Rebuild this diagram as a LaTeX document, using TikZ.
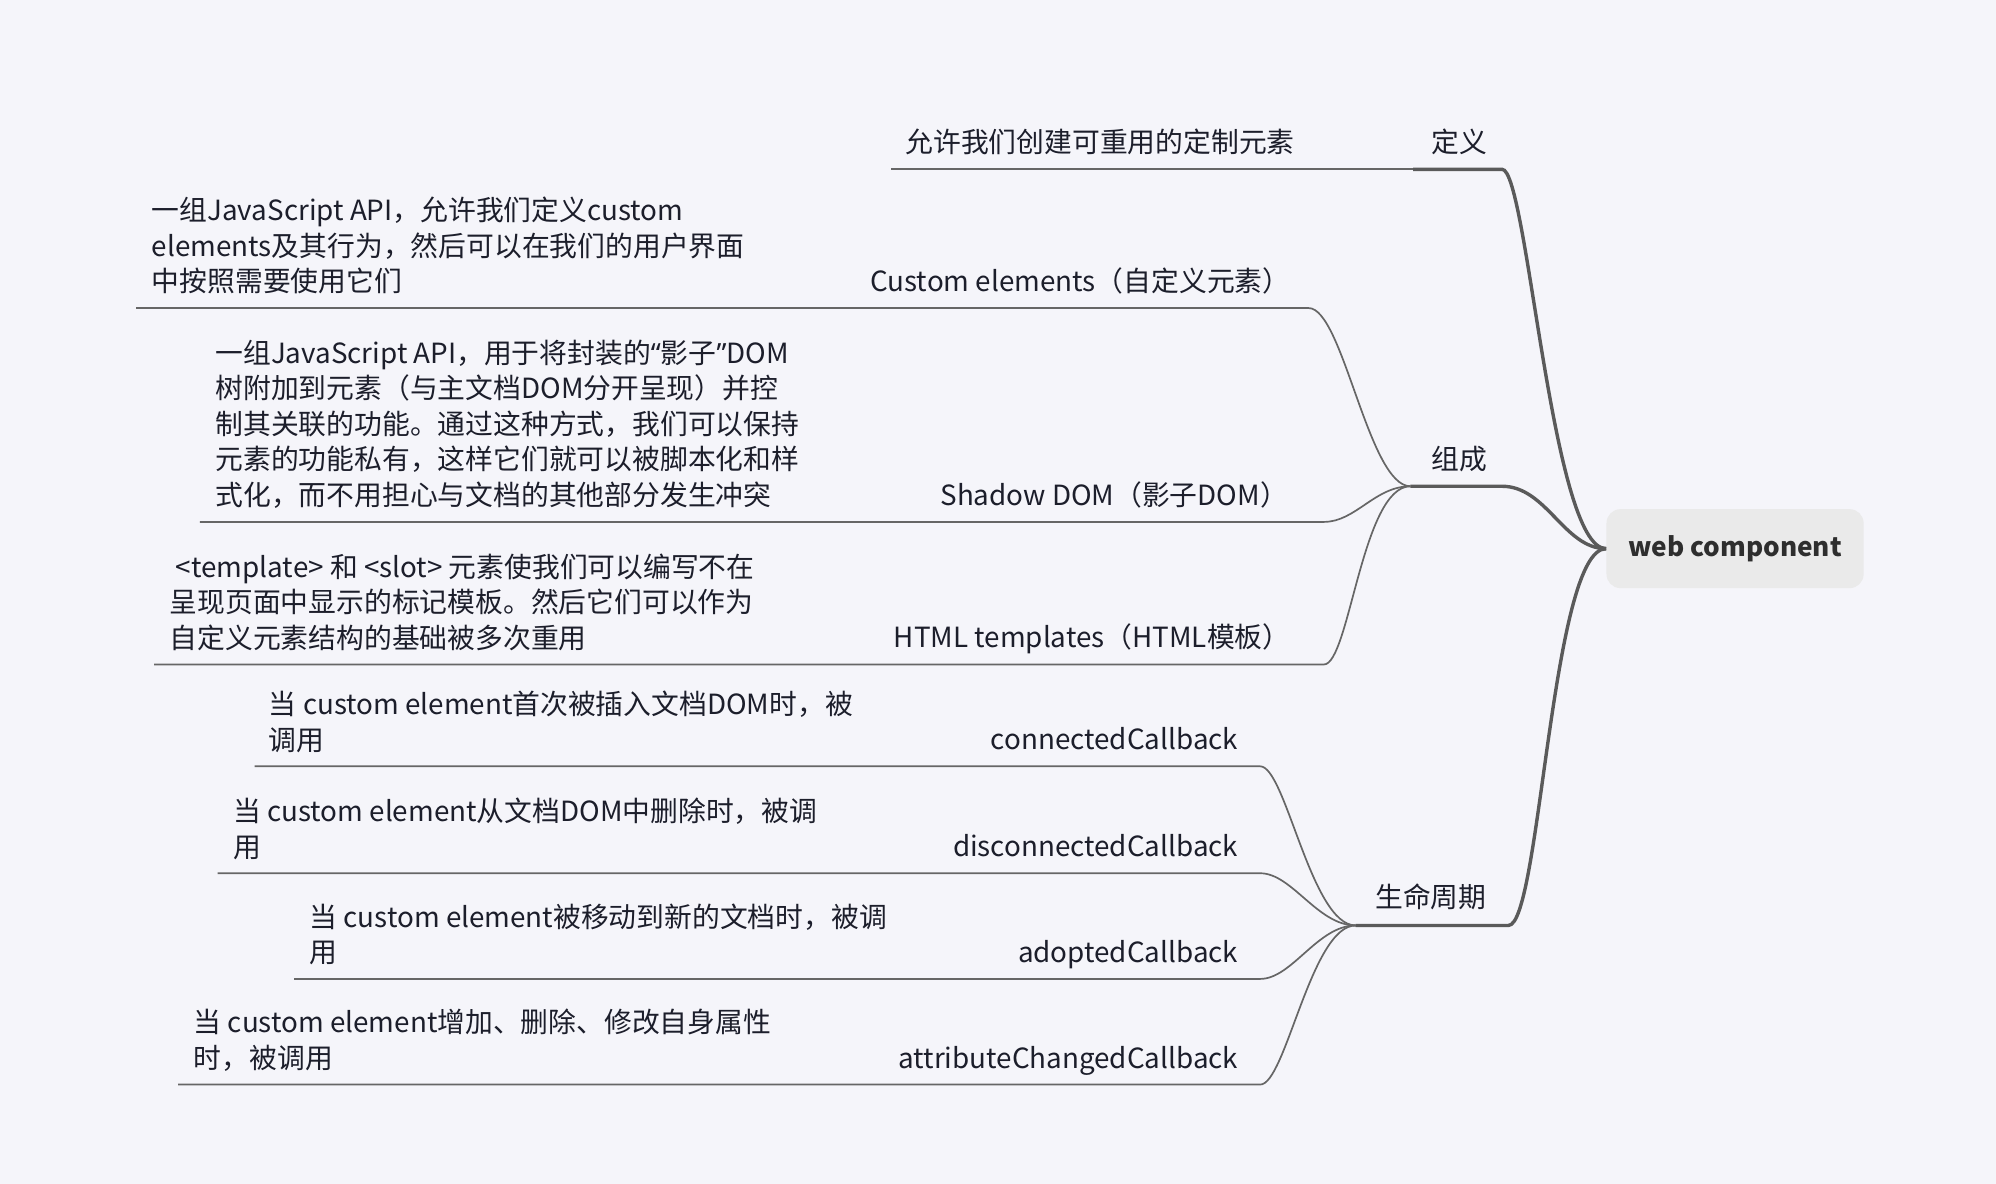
\documentclass[tikz,border=0pt]{standalone}
\usepackage{fontspec}
\setmainfont{Noto Sans CJK SC}
\newfontfamily\quotefont{Noto Sans}
\definecolor{bg}{HTML}{F5F5FA}
\definecolor{ink}{HTML}{1C1E2B}
\definecolor{rootfill}{HTML}{EAEAEA}
\definecolor{roottext}{HTML}{2E2E2E}
\definecolor{linec}{HTML}{666666}
\definecolor{linecb}{HTML}{5A5A5A}
\begin{document}
\begin{tikzpicture}[x=0.6366pt,y=-0.6366pt,
  txt/.style={inner sep=0pt, font=\fontsize{13.9}{17.8}\selectfont, text=ink},
  desc/.style={txt, align=left, anchor=north west},
  lab/.style={txt, anchor=base east},
  labw/.style={txt, anchor=base west},
  thinl/.style={draw=linec, line width=0.85pt},
  thickl/.style={draw=linecb, line width=1.7pt},
  rootbox/.style={fill=rootfill, rounded corners=7pt, minimum width=128.6pt, minimum height=39.5pt, inner sep=0pt, text=roottext, font=\fontsize{13.1}{16}\selectfont\bfseries}
]
\fill[bg] (0,0) rectangle (1568,930);
\useasboundingbox (0,0) rectangle (1568,930);

% root
\node[rootbox] (root) at (1363,431) {web component};

% main topics
\node[labw] (dy) at (1124,120) {定义};
\node[labw] (zc) at (1124,369) {组成};
\node[labw] (sm) at (1080,713) {生命周期};

\coordinate (dyL) at (1110,133); \coordinate (dyR) at (1180,133);
\coordinate (zcL) at (1108,382); \coordinate (zcR) at (1180,382);
\coordinate (smL) at (1065,727); \coordinate (smR) at (1185,727);

% definition child
\node[labw] (dyc) at (711,120) {允许我们创建可重用的定制元素};
\coordinate (dycL) at (700,133);

% composition children
\node[lab] (ce) at (1014,229) {Custom elements（自定义元素）};
\node[desc] (ced) at (119,153.4) {\strut 一组JavaScript API，允许我们定义custom\\elements及其行为，然后可以在我们的用户界面\\中按照需要使用它们};
\coordinate (ceL) at (107,242); \coordinate (ceR) at (1028,242);

\node[lab] (sd) at (1012,397) {Shadow DOM（影子DOM）};
\node[desc] (sdd) at (169,265.4) {\strut 一组JavaScript API，用于将封装的{\quotefont “}影子{\quotefont ”}DOM\\树附加到元素（与主文档DOM分开呈现）并控\\制其关联的功能。通过这种方式，我们可以保持\\元素的功能私有，这样它们就可以被脚本化和样\\式化，而不用担心与文档的其他部分发生冲突};
\coordinate (sdL) at (157,410); \coordinate (sdR) at (1040,410);

\node[lab] (ht) at (1014,509) {HTML templates（HTML模板）};
\node[desc] (htd) at (133,433.4) {\strut\ <template> 和 <slot> 元素使我们可以编写不在\\呈现页面中显示的标记模板。然后它们可以作为\\自定义元素结构的基础被多次重用};
\coordinate (htL) at (121,522); \coordinate (htR) at (1040,522);

% lifecycle children
\node[lab] (cc) at (973,589) {connectedCallback};
\node[desc] (ccd) at (211,541.4) {\strut 当 custom element首次被插入文档DOM时，被\\调用};
\coordinate (ccL) at (200,602); \coordinate (ccR) at (990,602);

\node[lab] (dc) at (973,673) {disconnectedCallback};
\node[desc] (dcd) at (183,625.4) {\strut 当 custom element从文档DOM中删除时，被调\\用};
\coordinate (dcL) at (171,686); \coordinate (dcR) at (990,686);

\node[lab] (ad) at (973,756) {adoptedCallback};
\node[desc] (add) at (243,708.4) {\strut 当 custom element被移动到新的文档时，被调\\用};
\coordinate (adL) at (231,769); \coordinate (adR) at (990,769);

\node[lab] (at) at (973,839) {attributeChangedCallback};
\node[desc] (atd) at (152,791.4) {\strut 当 custom element增加、删除、修改自身属性\\时，被调用};
\coordinate (atL) at (140,852); \coordinate (atR) at (990,852);

% connectors: main branches
\draw[thinl] (dycL) -- (dyL);
\draw[thickl] (dyL) -- (dyR) .. controls +(20,0) and +(-43,0) .. (root.west);
\draw[thickl] (zcL) -- (zcR) .. controls +(35,0) and +(-33,0) .. (root.west);
\draw[thickl] (smL) -- (smR) .. controls +(25,0) and +(-43,0) .. (root.west);

% composition children
\draw[thinl] (ceL) -- (ceR) .. controls +(27,0) and +(-33,0) .. (zcL);
\draw[thinl] (sdL) -- (sdR) .. controls +(25,0) and +(-28,0) .. (zcL);
\draw[thinl] (htL) -- (htR) .. controls +(20,0) and +(-38,0) .. (zcL);

% lifecycle children
\draw[thinl] (ccL) -- (ccR) .. controls +(20,0) and +(-35,0) .. (smL);
\draw[thinl] (dcL) -- (dcR) .. controls +(25,0) and +(-30,0) .. (smL);
\draw[thinl] (adL) -- (adR) .. controls +(25,0) and +(-30,0) .. (smL);
\draw[thinl] (atL) -- (atR) .. controls +(20,0) and +(-35,0) .. (smL);
\end{tikzpicture}
\end{document}
